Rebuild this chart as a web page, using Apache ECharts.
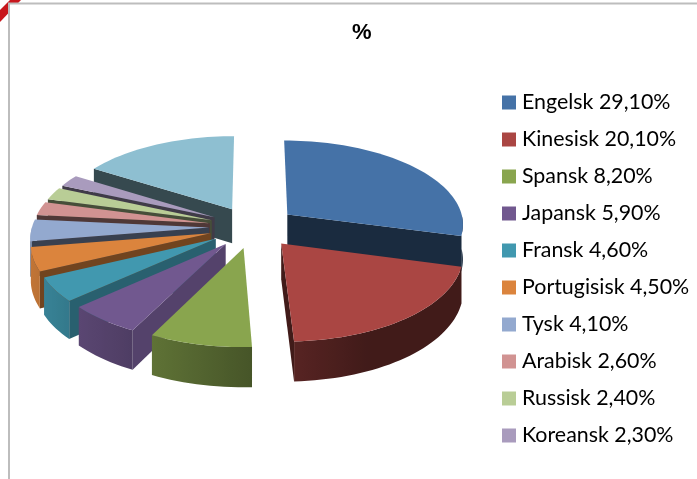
<!DOCTYPE html>
<html>
<head>
<meta charset="utf-8">
<style>
html, body { margin: 0; padding: 0; background: #fff; }
#chart { width: 697px; height: 479px; }
</style>
<script src="https://cdn.jsdelivr.net/npm/echarts@6/dist/echarts.min.js"></script>
</head>
<body>
<div id="chart"></div>
<script>
var names = ['Engelsk', 'Kinesisk', 'Spansk', 'Japansk', 'Fransk', 'Portugisisk', 'Tysk', 'Arabisk', 'Russisk', 'Koreansk', 'Andre'];
var values = [29.1, 20.1, 8.2, 5.9, 4.6, 4.5, 4.1, 2.6, 2.4, 2.3, 16.1];
var colors = ['#4572A7', '#AA4643', '#89A54E', '#71588F', '#4198AF', '#DB843D', '#93A9CF', '#D19392', '#B9CD96', '#A99BBD', '#8EBFD1'];

// the last slice has no legend row in the picture, its row is cut off
var legendCount = 10;

// 3d pie geometry
var cx = 253, cy = 227, R = 177, explode = 44, tilt = 0.475, depth = 35, persp = 1700;

function project(x, y, h) {
    var f = persp / (persp - y);
    return [cx + x * f, cy + (y * tilt + h) * f];
}

function shade(hex, k) {
    var c = echarts.color.parse(hex);
    return 'rgb(' + Math.round(c[0] * k) + ',' + Math.round(c[1] * k) + ',' + Math.round(c[2] * k) + ')';
}

function label(i) {
    return names[i] + ' ' + values[i].toFixed(2).replace('.', ',') + '%';
}

var total = 0;
values.forEach(function (v) { total += v; });

var slices = [];
var acc = 0;
values.forEach(function (v, i) {
    var a0 = acc / total * Math.PI * 2;
    acc += v;
    var a1 = acc / total * Math.PI * 2;
    slices.push({ index: i, a0: a0, a1: a1, mid: (a0 + a1) / 2 });
});

function makeSlice(s, color) {
    var ox = Math.sin(s.mid) * explode;
    var oy = -Math.cos(s.mid) * explode;
    var children = [];
    var rim = function (a, h) {
        return project(ox + Math.sin(a) * R, oy - Math.cos(a) * R, h);
    };
    var apexTop = project(ox, oy, 0);
    var apexBottom = project(ox, oy, depth);

    function poly(points, fill) {
        children.push({
            type: 'polygon',
            shape: { points: points },
            style: { fill: fill }
        });
    }

    // flat cut faces, only the ones turned to the viewer
    [[s.a0, s.a0 - Math.PI / 2], [s.a1, s.a1 + Math.PI / 2]].forEach(function (f) {
        if (Math.cos(f[1]) > 0) {
            return;
        }
        var k = Math.max(0.38, 0.3 + 0.5 * Math.sin(f[1]));
        poly([apexTop, rim(f[0], 0), rim(f[0], depth), apexBottom], shade(color, k));
    });

    // outer wall, front half of the pie only, light changes along it
    var w0 = Math.max(s.a0, Math.PI / 2);
    var w1 = Math.min(s.a1, Math.PI * 1.5);
    if (w1 > w0) {
        var steps = Math.max(2, Math.ceil((w1 - w0) / (Math.PI / 90)));
        var upper = [];
        var lower = [];
        var xs = [];
        for (var j = 0; j <= steps; j++) {
            var a = w0 + (w1 - w0) * j / steps;
            upper.push(rim(a, 0));
            lower.unshift(rim(a, depth));
            xs.push(rim(a, 0)[0]);
        }
        var x0 = Math.min.apply(null, xs);
        var x1 = Math.max.apply(null, xs);
        var stops = [];
        for (var q = steps; q >= 0; q--) {
            var b = w0 + (w1 - w0) * q / steps;
            stops.push({
                offset: (xs[q] - x0) / Math.max(1, x1 - x0),
                color: shade(color, Math.max(0.38, 0.53 - 0.36 * Math.sin(b)))
            });
        }
        poly(upper.concat(lower), new echarts.graphic.LinearGradient(x0, 0, x1, 0, stops, true));
    }

    // top face
    var n = Math.max(2, Math.ceil((s.a1 - s.a0) / (Math.PI / 90)));
    var top = [apexTop];
    for (var t = 0; t <= n; t++) {
        top.push(rim(s.a0 + (s.a1 - s.a0) * t / n, 0));
    }
    poly(top, color);

    return { type: 'group', children: children };
}

// paint from the back of the pie to the front
var drawOrder = slices.slice().sort(function (a, b) {
    return -Math.cos(a.mid) - -Math.cos(b.mid);
});

var series = drawOrder.map(function (s) {
    return {
        type: 'custom',
        name: label(s.index),
        coordinateSystem: 'none',
        silent: true,
        animation: false,
        itemStyle: { color: colors[s.index] },
        data: [[values[s.index]]],
        renderItem: function () {
            return makeSlice(s, colors[s.index]);
        }
    };
});

var myChart = echarts.init(document.getElementById('chart'));

var option = {
    backgroundColor: '#fff',
    animation: false,
    title: {
        text: '%',
        left: 347,
        top: 17,
        textStyle: { fontFamily: 'Liberation Sans', fontSize: 22, fontWeight: 'bold', color: '#000' }
    },
    legend: {
        orient: 'vertical',
        left: 502,
        top: 92,
        padding: 0,
        itemWidth: 14,
        itemHeight: 14,
        itemGap: 16,
        icon: 'rect',
        selectedMode: false,
        data: names.slice(0, legendCount).map(function (n, i) { return label(i); }),
        textStyle: { fontFamily: 'Lato', fontSize: 21.4, color: '#000', padding: [0, 0, 0, 1] }
    },
    graphic: [
        // sheet edge and the bit of red behind it
        { type: 'polygon', z: -1, shape: { points: [[0, 22], [0, 10], [10, 0], [21, 0]] }, style: { fill: '#c8171d' } },
        { type: 'rect', z: 0, shape: { x: 8, y: 3, width: 689, height: 476 }, style: { fill: '#fff' } },
        { type: 'line', z: 1, shape: { x1: 8, y1: 3.5, x2: 697, y2: 3.5 }, style: { stroke: '#bdbdbd', lineWidth: 2 } },
        { type: 'line', z: 1, shape: { x1: 9, y1: 3, x2: 9, y2: 479 }, style: { stroke: '#bdbdbd', lineWidth: 2 } }
    ],
    series: series
};

myChart.setOption(option);
window.addEventListener('resize', function () {
    myChart.resize();
});
</script>
</body>
</html>
